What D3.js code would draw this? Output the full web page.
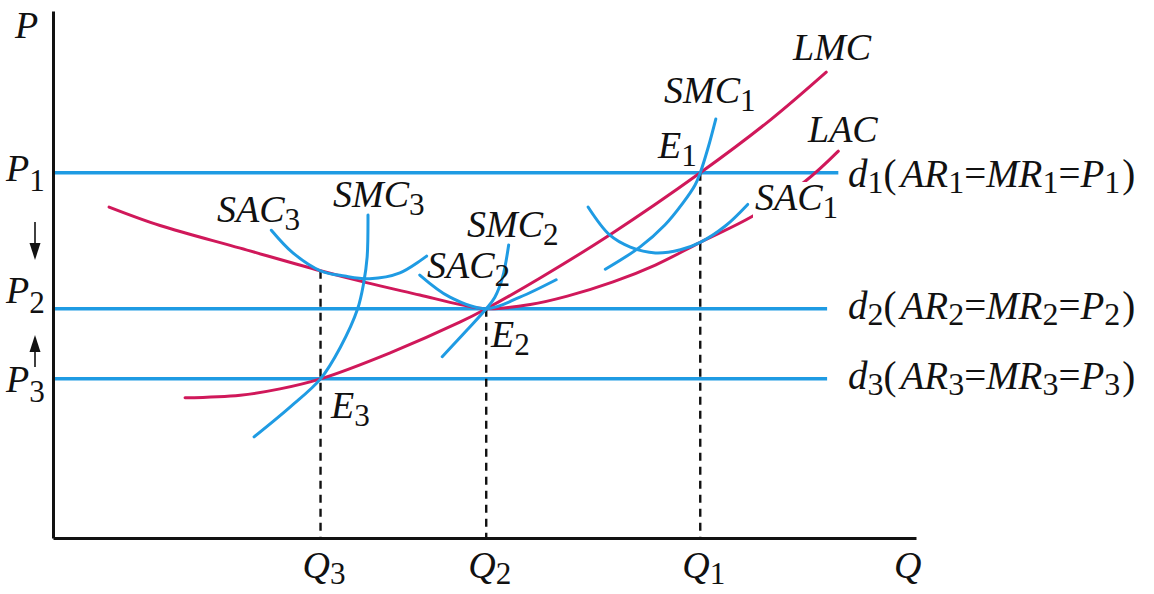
<!DOCTYPE html>
<html><head><meta charset="utf-8">
<script src="https://cdn.jsdelivr.net/npm/d3@7/dist/d3.min.js"></script>
<style>html,body{margin:0;padding:0;background:#fff;}svg{display:block;}</style>
</head><body>
<script>
// ---- data (Q and P in chart units) ----
const quantities = [75, 50.2, 31];      // Q1, Q2, Q3
const prices = [69.3, 43.5, 30.2];      // P1, P2, P3
const demandEnd = [91, 89.7, 89.7];     // where the d lines stop
const tangentP = [69.3, 43.5, 50.7];    // where dashed guides start (E1, E2, LAC at Q3)
const lac = [[6.5,62.8],[12.4,59.3],[21.7,55.0],[31,50.7],[36.2,48.5],[42.5,46.1],[47.2,44.3],[50.2,43.5],[55.3,44.3],[59.6,45.9],[64.9,48.6],[69.8,51.8],[75,56.1],[81,61.0],[87.1,67.6],[91,73.4]];
const lmc = [[15.3,26.6],[21.7,27.1],[26.3,28.3],[31,30.2],[39,35.1],[47.2,41],[50.2,43.5],[56.4,49.3],[64.5,57.5],[75,69.3],[83.1,79.3],[89.6,88.4]];
const sac3 = [[25.3,58.4],[27.8,54.1],[31,50.7],[33.8,49.7],[36.7,49.2],[40.2,50.3],[43.3,53.5]];
const smc3 = [[36.5,61.3],[36.4,53.3],[36,48.4],[35.3,43.5],[33.3,36.2],[31,30.2],[27.5,24.9],[23.3,19.2]];
const sac2 = [[42.5,49.9],[46,45.7],[50.2,43.5],[54.1,45.7],[58.3,49]];
const smc2 = [[52.8,55.6],[52.1,49.5],[51.2,45.7],[50.2,43.5],[48,39.5],[45.1,34.4]];
const sac1 = [[62,62.8],[64.5,57.5],[66.9,55.2],[69.8,54.1],[72.7,54.7],[75,56.1],[77.9,59.2],[80.5,63.3]];
const smc1 = [[64,51],[68,55.2],[70.9,59.4],[73,63.6],[74.4,67],[75,69.3],[75.9,74],[76.8,79.5]];
const qLabels = ["1","2","3"];
const pLabels = ["1","2","3"];

// ---- setup ----
const W = 1154, H = 594;
const BLUE = "#1f9be3", RED = "#d0185a";
const FONT = "'Liberation Serif','Times New Roman',serif";
const FS = 38;
const svg = d3.select("body").append("svg").attr("width", W).attr("height", H);
svg.append("rect").attr("width", W).attr("height", H).attr("fill", "#fff");

const x = d3.scaleLinear().domain([0, 100]).range([53, 916]);
const y = d3.scaleLinear().domain([0, 100]).range([538, 11]);

const line = d3.line().x(d => x(d[0])).y(d => y(d[1])).curve(d3.curveCatmullRom.alpha(0.5));

// rich text: parts = [[text, kind, dx]] kind: i italic, r roman, s subscript
function rich(px, py, parts, opts = {}) {
  const size = opts.size || FS;
  const t = svg.append("text").attr("x", px).attr("y", py)
    .attr("font-family", FONT).attr("font-size", size).attr("fill", "#111");
  let shifted = 0;
  const sub = opts.sub || 8;
  parts.forEach(([s, k, dx]) => {
    const ts = t.append("tspan").text(s);
    if (dx) ts.attr("dx", dx);
    if (k === "s") {
      ts.attr("font-style", "normal").attr("font-size", size * 0.82);
      ts.attr("dy", sub - shifted); shifted = sub;
    } else {
      ts.attr("font-style", k === "i" ? "italic" : "normal");
      if (shifted) { ts.attr("dy", -shifted); shifted = 0; }
    }
  });
  return t;
}

// ---- demand lines ----
prices.forEach((p, i) => {
  svg.append("line").attr("x1", x(0)).attr("x2", x(demandEnd[i]))
    .attr("y1", y(p)).attr("y2", y(p)).attr("stroke", BLUE).attr("stroke-width", 3.5);
});

// ---- dashed guides ----
quantities.forEach((q, i) => {
  svg.append("line").attr("x1", x(q)).attr("x2", x(q))
    .attr("y1", y(tangentP[i])).attr("y2", y(0))
    .attr("stroke", "#111").attr("stroke-width", 2.4).attr("stroke-dasharray", "8,6");
});

// ---- curves ----
[[lac, RED], [lmc, RED], [sac3, BLUE], [smc3, BLUE], [sac2, BLUE], [smc2, BLUE], [sac1, BLUE], [smc1, BLUE]]
  .forEach(([d, c]) => {
    svg.append("path").attr("d", line(d)).attr("fill", "none")
      .attr("stroke", c).attr("stroke-width", 3).attr("stroke-linecap", "round");
  });

// ---- axes ----
const ax = svg.append("g").attr("transform", `translate(0,${y(0)})`)
  .call(d3.axisBottom(x).tickValues([]).tickSizeOuter(0));
const ay = svg.append("g").attr("transform", `translate(${x(0)},0)`)
  .call(d3.axisLeft(y).tickValues([]).tickSizeOuter(0));
[ax, ay].forEach(g => g.select(".domain").attr("stroke", "#111").attr("stroke-width", 3));

// ---- labels ----
rich(15, 38, [["P", "i"]]);
rich(894, 578, [["Q", "i"]]);
quantities.forEach((q, i) => {
  rich(x(q) - 18, 578, [["Q", "i"], [qLabels[i], "s"]], { sub: 6 });
});
const pBase = [181, 303, 392];
prices.forEach((p, i) => {
  rich(6, pBase[i], [["P", "i"], [pLabels[i], "s"]], { sub: 10 });
});

// SAC1 label with white backing to interrupt LAC
const sacLab = rich(755, 210, [["SAC", "i"], ["1", "s"]]);
const bb = sacLab.node().getBBox();
svg.insert("rect", () => sacLab.node()).attr("x", bb.x - 2).attr("y", bb.y + 6)
  .attr("width", bb.width + 4).attr("height", bb.height - 8).attr("fill", "#fff");

rich(658, 158, [["E", "i"], ["1", "s"]]);
rich(491, 347, [["E", "i"], ["2", "s"]]);
rich(331, 418, [["E", "i"], ["3", "s"]]);
rich(664, 103, [["SMC", "i"], ["1", "s"]]);
rich(793, 60, [["LMC", "i"]]);
rich(808, 142, [["LAC", "i"]]);
rich(333, 207, [["SMC", "i"], ["3", "s"]]);
rich(217, 222, [["SAC", "i"], ["3", "s"]]);
rich(467, 237, [["SMC", "i"], ["2", "s"]]);
rich(427, 278, [["SAC", "i"], ["2", "s"]]);

const dBase = [187, 319, 389];
prices.forEach((p, i) => {
  const n = pLabels[i];
  rich(848, dBase[i], [["d", "i"], [n, "s"], ["(", "r"], ["AR", "i", 4], [n, "s"], ["=", "r"],
    ["MR", "i"], [n, "s"], ["=", "r"], ["P", "i"], [n, "s"], [")", "r", 2]], { sub: 6, size: 39 });
});

// ---- arrows ----
function arrow(x0, yTail, yTip) {
  const dir = Math.sign(yTip - yTail);
  const headLen = 17, hw = 5.5;
  svg.append("line").attr("x1", x0).attr("x2", x0).attr("y1", yTail).attr("y2", yTip - dir * headLen + dir * 2)
    .attr("stroke", "#111").attr("stroke-width", 1.6);
  svg.append("path")
    .attr("d", `M${x0},${yTip} L${x0 - hw},${yTip - dir * headLen} L${x0 + hw},${yTip - dir * headLen} Z`)
    .attr("fill", "#111");
}
arrow(35, 222, 260);
arrow(35, 367, 335);
</script>
</body></html>
